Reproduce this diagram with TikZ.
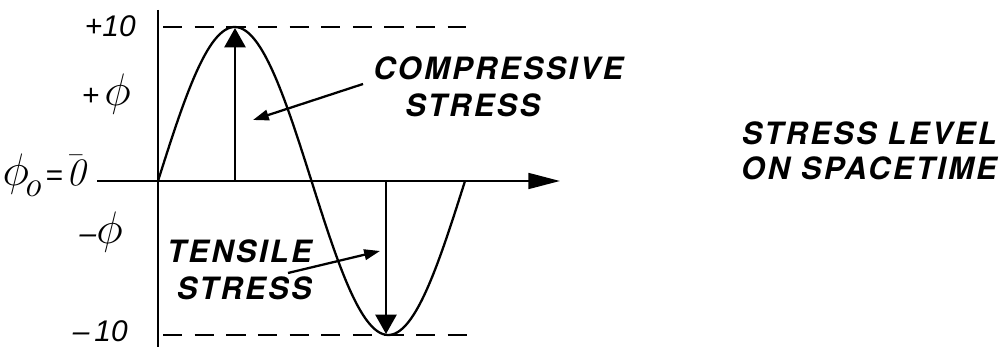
\documentclass[tikz,border=0pt]{standalone}
\usepackage{fontspec}
\usetikzlibrary{arrows.meta}
\newfontfamily\capfont{TeX Gyre Heros}[LetterSpace=8]
\newfontfamily\lblfont{Liberation Sans}
\newcommand{\bigphi}{\scalebox{1.5}{$\phi$}}
\begin{document}
\begin{tikzpicture}[x=0.02cm,y=-0.02cm,
  line/.style={line width=1.3pt},
  dashline/.style={line width=1.3pt, dash pattern=on 11pt off 7pt},
  captext/.style={font=\capfont\bfseries\itshape\fontsize{17.5}{20}\selectfont, inner sep=0pt},
  lbl/.style={font=\lblfont\itshape\fontsize{17}{20}\selectfont, inner sep=0pt},
  bigtip/.style={-{Triangle[length=18pt,width=9pt]}},
  vtip/.style={-{Triangle[length=11pt,width=12pt]}},
  smalltip/.style={-{Triangle[length=9pt,width=6pt]}}]
\useasboundingbox (0,0) rectangle (1007,347);
% axes
\coordinate (ytop) at (158,10);
\coordinate (ybot) at (158,347);
\coordinate (xl) at (97,181);
\coordinate (xr) at (560,181);
\draw[line] (ytop) -- (ybot);
\draw[line, bigtip] (xl) -- (xr);
% dashed levels
\coordinate (tl) at (163,27);
\coordinate (tr) at (466,27);
\coordinate (bl) at (163,335);
\coordinate (br) at (474,335);
\draw[dashline] (tl) -- (tr);
\draw[dashline] (bl) -- (br);
% sine wave
\draw[line] plot[domain=0:360, samples=120, smooth] ({158+\x*0.8528},{181-154*sin(\x)});
% vertical stress arrows
\coordinate (ua) at (235,181);
\coordinate (ub) at (235,28);
\coordinate (da) at (386,181);
\coordinate (db) at (386,334);
\draw[line, vtip] (ua) -- (ub);
\draw[line, vtip] (da) -- (db);
% labels
\node[captext, anchor=base west] (cmp1) at (373,80) {COMPRESSIVE};
\node[captext, anchor=base west] (cmp2) at (405,117) {STRESS};
\node[captext, anchor=base east] (ten1) at (312,263) {TENSILE};
\node[captext, anchor=base east] (ten2) at (312,300) {STRESS};
\node[captext, anchor=base east] (sl1) at (997,145) {STRESS LEVEL};
\node[captext, anchor=base east] (sl2) at (997,180) {ON SPACETIME};
\coordinate (ca) at (363,84);
\coordinate (cb) at (253,120);
\draw[line, smalltip] (ca) -- (cb);
\coordinate (ta) at (288,273);
\coordinate (tb) at (380,251);
\draw[line, smalltip] (ta) -- (tb);
% axis labels
\node[lbl, anchor=base east] (p10) at (136,37) {+10};
\node[lbl, anchor=base east] (pphi) at (131,106) {+\,\bigphi};
\node[lbl, anchor=base east] (zphi) at (86,186) {\bigphi\kern-3pt\raisebox{-6pt}{\scalebox{1.2}{$\mathit{o}$}}\kern2pt=\kern2pt\scalebox{1.3}{$\bar{\mathit{0}}$}};
\node[lbl, anchor=base east] (mphi) at (123,244) {–\bigphi};
\node[lbl, anchor=base east] (m10) at (128,341) {–\,10};
\end{tikzpicture}
\end{document}
